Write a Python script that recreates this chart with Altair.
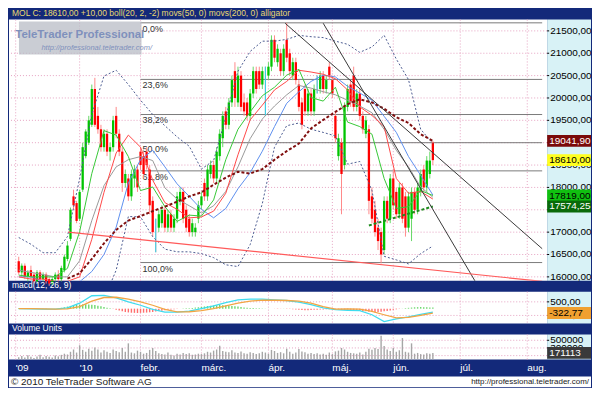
import altair as alt
import pandas as pd

# ---------------- data ----------------
opens = [16350,16100,16250,16000,16150,16050,15900,16100,15950,16050,
         15950,15850,15950,16050,15950,16150,16400,16850,17800,17650,
         17300,17950,18700,19000,19400,20200,19600,19300,18900,19200,
         18800,18900,19600,19200,18800,18100,18200,17800,18200,18400,
         18800,18700,18800,18400,17700,17100,17100,17200,17500,17100,
         17400,17100,17300,17700,17900,17500,17300,17000,17000,17300,
         17600,18100,17800,18300,18500,18200,18700,19100,19700,19400,
         19900,20600,19900,20500,19900,19900,19600,20100,20600,20600,
         20300,20500,20500,20700,21300,20800,21000,20600,21300,21000,
         20500,20800,20300,19900,20200,19700,20100,19700,20300,20200,
         20500,20200,20700,20400,19600,18700,19000,18500,19800,20300,
         20500,19800,20100,19600,19200,19300,17800,17500,17100,17000,
         16600,17700,17300,18200,17900,17400,18000,17800,17100,17300,
         17900,17500,17900,18400,18000,18300,19000]
highs = [16450,16300,16300,16150,16250,16100,16150,16150,16100,16100,
         16000,16000,16100,16150,16250,16500,16800,17550,17950,17700,
         17950,19000,19300,19600,20300,20450,19800,19400,19300,19300,
         19000,19600,19800,19300,18900,18400,18300,18400,18500,18500,
         18900,18800,18900,18500,17800,17300,17500,17600,17600,17500,
         17500,17400,17900,18000,18000,17600,17400,17300,17200,17700,
         17900,18200,18500,18600,18600,18900,19300,19700,19800,20000,
         20500,20800,20700,20600,20100,20000,20200,20700,20700,20700,
         20700,20700,20800,21400,21400,21200,21100,21200,21680,21100,
         20900,20900,20400,20000,20300,20200,20200,20300,20500,20600,
         20600,20500,20800,20500,19700,19200,19100,19900,20300,20400,
         20700,20200,20200,19700,19600,19400,18000,17700,17300,17100,
         17800,17800,18300,18400,18000,18100,18100,17900,17900,18000,
         18000,18100,18400,18500,18700,18800,19040]
lows = [16050,16000,15950,15900,15950,15850,15850,15900,15900,15850,
        15800,15800,15900,15900,15900,16100,16350,16800,17500,17200,
        17250,17900,18650,18950,19350,19350,19200,18800,18800,18700,
        18600,18800,19100,18700,17900,18000,17700,17700,18000,17900,
        18400,18200,18400,17400,16900,16550,17000,17100,17000,17000,
        17000,17000,17200,17600,17200,17000,16900,16900,16900,17200,
        17500,17700,17700,18200,18100,18100,18600,18900,19300,19300,
        19800,19800,19800,19700,19600,19500,19500,20000,20100,20200,
        20200,19600,20400,20600,20800,20700,20500,20500,20800,20500,
        20400,20300,19700,19300,19600,19600,19600,19600,20100,20100,
        20100,20100,20400,20000,19000,18600,17400,18400,19700,19800,
        19700,19700,19500,19200,19100,17400,17200,16900,16600,16300,
        16500,17200,17200,17500,17300,17300,17200,16900,17000,16800,
        17400,17400,17800,17900,17900,18200,18500]
closes = [16100,16250,16000,16100,16000,15900,16100,15950,16050,15900,
          15850,15950,16050,15950,16200,16450,16700,17500,17600,17250,
          17900,18900,19250,19500,20200,19400,19300,18900,19200,18800,
          18900,19500,19200,18800,18100,18300,17800,18300,18400,18000,
          18500,18300,18500,17600,17000,17100,17400,17500,17100,17400,
          17100,17300,17800,17900,17300,17100,17000,17200,17100,17600,
          17800,17800,18400,18500,18200,18800,19200,19600,19400,19900,
          20400,20000,20500,19800,19700,19600,20100,20600,20200,20300,
          20600,20500,20700,21300,20900,21100,20600,21100,20900,20600,
          20800,20400,19800,19400,19700,20100,19700,20200,20300,20500,
          20200,20400,20500,20100,19100,19100,18300,19800,20200,19900,
          19800,20100,19600,19300,19500,17700,17300,17000,16800,16500,
          17700,17300,18200,17600,17400,18000,17300,17100,17800,17900,
          17500,18000,18300,18000,18600,18600,18610]
volumes = [60000,90000,50000,110000,70000,40000,80000,120000,60000,90000,
           70000,50000,100000,80000,120000,150000,130000,200000,260000,180000,
           370000,250000,200000,280000,230000,310000,260000,180000,240000,200000,
           170000,260000,220000,190000,300000,200000,420000,180000,160000,230000,
           200000,150000,170000,250000,300000,220000,160000,140000,130000,180000,
           120000,100000,150000,130000,170000,140000,160000,120000,130000,150000,
           140000,160000,200000,180000,230000,260000,360000,220000,200000,190000,
           240000,180000,170000,210000,160000,150000,190000,170000,140000,160000,
           200000,180000,150000,250000,220000,170000,190000,160000,280000,200000,
           150000,180000,270000,210000,190000,150000,170000,140000,160000,130000,
           150000,120000,180000,140000,210000,230000,300000,260000,200000,170000,
           160000,150000,180000,130000,200000,280000,250000,300000,270000,620000,
           350000,260000,220000,300000,200000,240000,560000,200000,180000,420000,
           150000,170000,140000,130000,160000,150000,171113]
macd_hist = [20,25,20,15,10,5,-10,-15,-20,-20,-15,-10,-5,
             20,60,100,150,200,240,270,290,
             310,320,310,290,260,220,170,120,
             70,30,-20,
             -80,-140,-200,-250,-280,-300,-310,-320,-310,-300,-290,-270,-240,-210,-180,-150,-120,-90,-60,
             -40,-20,-10,10,20,30,50,80,100,
             130,160,190,210,230,250,260,250,240,220,200,180,150,120,
             90,70,50,40,30,20,20,10,5,0,-10,
             -20,-10,10,-20,-30,
             -50,-60,-80,-100,-120,-110,-100,-90,-80,-70,-60,-50,
             -40,-20,-40,-60,
             -100,-80,-60,-90,-110,-130,
             -150,-180,-200,-230,-250,-260,-250,-230,-200,-170,-130,-90,-50,-20,10,
             40,60,80,100,110,120,110,100,90,80]

line_idx = [0,4,8,12,16,20,24,28,32,36,40,44,48,52,56,60,64,68,72,76,
            80,84,88,92,96,100,104,108,112,116,120,124,128,132,136]
bb_upper = [16880,16730,16540,16540,16900,18200,19630,20490,20620,20300,
            19950,19630,19380,19130,18920,18410,18600,19570,20600,21040,
            21270,21270,21310,21400,21370,21350,21270,21200,21020,21140,
            21400,20870,20410,19300,18980]
bb_lower = [15700,15650,15650,15700,15600,15200,14800,15500,16150,17350,
            17340,16900,16620,16560,16560,16520,16430,16270,16230,16720,
            17640,18900,19380,19440,19300,19230,19150,18520,18580,17930,
            16460,16380,16290,16520,16690]
bb_mid = [16150,16100,16050,16000,16000,16360,17260,18040,18460,18620,
          18690,18600,17990,17740,17590,17430,17590,17910,18460,19090,
          19530,19820,20070,20280,20220,20140,20070,19950,19820,19670,
          19300,18830,18460,18010,17780]
jaw = [16000,16000,15900,15850,15850,15890,16120,16500,17110,18100,
       18620,18830,18460,18080,17800,17510,17320,17530,17970,18330,
       18810,19360,19880,20140,20370,20510,20470,20260,20110,19950,
       19590,19230,18690,18270,17830]
teeth = [16000,15950,15950,15900,15900,16000,16840,17890,18770,19170,
         18900,18160,17660,17510,17320,17340,17470,17870,18730,19510,
         19840,20180,20370,20620,20580,20530,20430,20180,19800,19610,
         19360,18200,17870,17910,17740]
lips = [16040,16000,16000,16000,16190,17010,18310,19270,19170,18690,
        17930,18010,17570,17240,17380,17360,17720,18620,19300,19690,
        20050,20240,20510,20640,20010,19930,20240,19460,19360,19190,
        18200,17530,17570,17930,17819]
ma50_idx = [16,20,24,28,32,36,40,44,48,52,56,60,64,68,72,76,
            80,84,88,92,96,100,104,108,112,116,120,124,128,132,136]
ma50 = [15960,16080,16400,16750,17050,17260,17360,17470,17570,17680,
        17800,17890,18060,18220,18350,18310,18410,18620,18810,18980,
        19320,19510,19690,19860,19970,19900,19760,19570,19440,19190,19041.9]
ma200_idx = [115, 136]
ma200 = [17150, 17574.25]
macd_line = [0,-20,-40,-40,50,400,950,980,800,500,250,-50,-250,-260,-180,0,
             200,450,650,700,700,650,600,480,300,50,-80,-120,-150,-450,-950,
             -750,-600,-420,-250]
macd_signal = [0,0,-20,-30,-20,150,550,820,840,700,500,250,-50,-240,-230,-150,
               0,200,400,550,620,620,600,550,400,150,-30,-20,-30,-200,-450,
               -680,-650,-500,-322.77]

month_pos = [-1, 20, 40, 60, 82, 103, 123, 145, 167]
month_names = ["'09", "'10", "febr.", "márc.", "ápr.", "máj.", "jún.", "júl.", "aug."]
price_ticks = [16000,16500,17000,17500,18000,18500,19000,19500,20000,20500,21000,21500]
# tick labels that are not hidden behind a value tag in the reference
price_labels = [16000,16500,17000,18000,18500,19500,20000,20500,21000,21500]
macd_ticks = [500, -500]
vol_ticks = [500000, 300000]
fib_levels = [21680, 20415, 19630, 19000, 18370, 16320]
fib_names = ["0,0%", "23,6%", "38,2%", "50,0%", "61,8%", "100,0%"]
fib_start = 40
trend_names = ["a", "a", "b", "b"]
trend_idx = [87.5, 171.9, 100, 150]
trend_price = [21670, 16630, 21670, 15890]
support_idx = [16.25, 171.9]
support_price = [17000, 15900]
price_tags = [19041.90, 18610.00, 17819.00, 17574.25]
price_tag_text = ["19041,90", "18610,00", "17819,00", "17574,25"]
macd_tag, macd_tag_text = -322.77, "-322,77"
vol_tag, vol_tag_text = 171113, "171113"

# ---------------- styling ----------------
W, AX = 540, 44
H_MAIN, H_MACD, H_VOL = 262, 32, 25
NAVY = "#13297a"
CYAN_BG = "#d8f2f6"
PINK = "#e6a3c2"
FONT = "Liberation Sans"
TAG_SHAPE = "M-1,-0.27L1,-0.27L1,0.27L-1,0.27Z"
tag_bg = ["#7a0a0a", "#ffff20", "#10c010", "#0a6a0a"]
tag_fg = ["white", "black", "black", "white"]

xs = alt.Scale(domain=[-1.56, 171.9], nice=False, zero=False)
ys_main = alt.Scale(domain=[15914, 21752], nice=False, zero=False)
ys_macd = alt.Scale(domain=[-1100, 1250], nice=False, zero=False)
ys_vol = alt.Scale(domain=[0, 650000], nice=False, zero=False)


def X(f):
    return alt.X(f, type="quantitative", scale=xs, axis=None)


def Y(f, sc):
    return alt.Y(f, type="quantitative", scale=sc, axis=None)


COMMA = "replace(format(datum.v, '.2f'), '.', ',')"

one = pd.DataFrame({"k": [0]})
idx = list(range(len(closes)))
candles = pd.DataFrame({"i": idx, "o": opens, "h": highs, "l": lows, "c": closes})
lines = pd.DataFrame({"i": line_idx, "bbu": bb_upper, "bbl": bb_lower, "mid": bb_mid,
                      "jaw": jaw, "teeth": teeth, "lips": lips,
                      "macd": macd_line, "sig": macd_signal})
ma50_df = pd.DataFrame({"i": ma50_idx, "v": ma50})
ma200_df = pd.DataFrame({"i": ma200_idx, "v": ma200})
trend_df = pd.DataFrame({"name": trend_names, "i": trend_idx, "p": trend_price})
support_df = pd.DataFrame({"i": support_idx, "p": support_price})
fib_df = pd.DataFrame({"v": fib_levels, "name": fib_names,
                       "s": [fib_start] * len(fib_levels), "e": [171.9] * len(fib_levels)})
vol_df = pd.DataFrame({"i": idx, "v": volumes})
hist_df = pd.DataFrame({"i": idx, "h": macd_hist})
months = pd.DataFrame({"m": month_pos, "name": month_names})


def side(h):
    return alt.Chart(one).mark_rect(color=CYAN_BG).encode(
        x=alt.value(W), x2=alt.value(W + AX), y=alt.value(0), y2=alt.value(h))


def vgrid():
    return alt.Chart(months).mark_rule(color=PINK, strokeDash=[1, 2]).encode(x=X("m"))


def hgrid(vals, sc):
    return alt.Chart(pd.DataFrame({"v": vals})).mark_rule(color=PINK, strokeDash=[1, 2]).encode(
        y=Y("v", sc))


def ylabels(tick_vals, label_vals, sc, expr):
    ticks = alt.Chart(pd.DataFrame({"v": tick_vals})).mark_rule(
        color="#000000", strokeWidth=1).encode(x=alt.value(W), x2=alt.value(W + 2), y=Y("v", sc))
    txt = alt.Chart(pd.DataFrame({"v": label_vals})).transform_calculate(t=expr).mark_text(
        align="left", baseline="middle", fontSize=10, font=FONT, color="#000000").encode(
        x=alt.value(W + 3), y=Y("v", sc), text="t:N")
    return [ticks, txt]


def tag(v, txt, sc, bg, fg):
    pt = alt.Chart(one).mark_point(shape=TAG_SHAPE, size=AX * AX, filled=True, color=bg,
                                   opacity=1, strokeWidth=0).encode(
        x=alt.value(W + AX / 2), y=alt.YDatum(v, scale=sc, axis=None, type="quantitative"))
    tx = alt.Chart(one).mark_text(align="left", baseline="middle", fontSize=10, font=FONT,
                                  color=fg).encode(
        x=alt.value(W + 2), y=alt.YDatum(v, scale=sc, axis=None, type="quantitative"),
        text=alt.value(txt))
    return [pt, tx]


def panel_title(txt, color):
    return alt.Chart(one).mark_text(align="left", baseline="bottom", fontSize=8.5, font=FONT,
                                    color=color).encode(
        x=alt.value(3), y=alt.value(-1.5), text=alt.value(txt))


# ---------------- main price panel ----------------
cb = alt.Chart(candles)
up = alt.datum.c > alt.datum.o
wicks = cb.mark_rule(strokeWidth=1).encode(
    x=X("i"), y=Y("l", ys_main), y2="h:Q",
    color=alt.condition(up, alt.value("#66d866"), alt.value("#ff8a8a")))
doji = cb.transform_filter(alt.datum.c == alt.datum.o).mark_rule(
    strokeWidth=1, color="#20d8f0").encode(x=X("i"), y=Y("l", ys_main), y2="h:Q")
bodies = cb.transform_filter(alt.datum.c != alt.datum.o).mark_bar(width=2.3).encode(
    x=X("i"), y=Y("o", ys_main), y2="c:Q",
    color=alt.condition(up, alt.value("#00c400"), alt.value("#ff0000")))

lb = alt.Chart(lines)


def ind(field, color, dash=None, width=1.0):
    kw = dict(color=color, strokeWidth=width, clip=True)
    if dash:
        kw["strokeDash"] = dash
    return lb.mark_line(**kw).encode(x=X("i"), y=Y(field, ys_main))


fib_rules = alt.Chart(fib_df).mark_rule(color="#7a7a7a", strokeWidth=1).encode(
    x=X("s"), x2="e:Q", y=Y("v", ys_main))
fib_text = alt.Chart(fib_df).mark_text(align="left", baseline="top", dx=2, dy=2,
                                        fontSize=9, font=FONT, color="#333333").encode(
    x=X("s"), y=Y("v", ys_main), text="name:N")
trend = alt.Chart(trend_df).mark_line(color="#3a3a3a", strokeWidth=1, clip=True).encode(
    x=X("i"), y=Y("p", ys_main), detail="name:N")
support = alt.Chart(support_df).mark_line(color="#ff5a5a", strokeWidth=1.2, clip=True).encode(
    x=X("i"), y=Y("p", ys_main))
ma50_line = alt.Chart(ma50_df).mark_line(color="#800f0f", strokeWidth=2, strokeDash=[3, 2],
                                         clip=True).encode(x=X("i"), y=Y("v", ys_main))
ma200_line = alt.Chart(ma200_df).mark_line(color="#1e8c1e", strokeWidth=2, strokeDash=[3, 2],
                                           clip=True).encode(x=X("i"), y=Y("v", ys_main))

wm_box = alt.Chart(one).mark_rect(color="#b8bcc6", opacity=0.75).encode(
    x=alt.value(10), x2=alt.value(133), y=alt.value(2), y2=alt.value(35))
wm_t1 = alt.Chart(one).mark_text(align="center", baseline="middle", fontSize=11.5,
                                 fontWeight="bold", font=FONT, color="#7f90bc").encode(
    x=alt.value(71), y=alt.value(15), text=alt.value("TeleTrader Professional"))
wm_t2 = alt.Chart(one).mark_text(align="center", baseline="middle", fontSize=7.5,
                                 fontStyle="italic", font=FONT, color="#7f90bc").encode(
    x=alt.value(88), y=alt.value(28), text=alt.value("http://professional.teletrader.com/"))

header = panel_title("MOL C: 18610,00 +10,00 boll(20, 2, -2) movs(50, 0) movs(200, 0) alligator",
                     "#e8d870")

main_layers = [side(H_MAIN), vgrid(), hgrid(price_ticks, ys_main),
               fib_rules, fib_text, wm_box, wm_t1, wm_t2,
               wicks, doji, bodies,
               ind("bbu", "#4d5c92", [2, 2]), ind("bbl", "#4d5c92", [2, 2]),
               ind("mid", "#9a9a9a"), ind("jaw", "#5e90ee"), ind("teeth", "#ff4848"),
               ind("lips", "#38c838"), ma50_line, ma200_line, trend, support]
main_layers += ylabels(price_ticks, price_labels, ys_main, COMMA)
for v, t, bg, fg in zip(price_tags, price_tag_text, tag_bg, tag_fg):
    main_layers += tag(v, t, ys_main, bg, fg)
main_layers.append(header)
main = alt.layer(*main_layers).properties(width=W, height=H_MAIN)

# ---------------- MACD panel ----------------
hist = alt.Chart(hist_df).mark_bar(width=1.4).encode(
    x=X("i"), y=Y("h", ys_macd), y2=alt.datum(0),
    color=alt.condition(alt.datum.h > 0, alt.value("#6cd86c"), alt.value("#ff6e6e")))
macd_l = lb.mark_line(color="#3fdcef", strokeWidth=1.3).encode(x=X("i"), y=Y("macd", ys_macd))
sig_l = lb.mark_line(color="#f2a544", strokeWidth=1.3).encode(x=X("i"), y=Y("sig", ys_macd))
macd_layers = [side(H_MACD), vgrid(), hgrid(macd_ticks, ys_macd), hist, macd_l, sig_l]
macd_layers += ylabels(macd_ticks, macd_ticks, ys_macd, COMMA)
macd_layers += tag(macd_tag, macd_tag_text, ys_macd, "#f0a030", "black")
macd_layers.append(panel_title("macd(12, 26, 9)", "white"))
macd = alt.layer(*macd_layers).properties(width=W, height=H_MACD)

# ---------------- Volume panel ----------------
vol_bars = alt.Chart(vol_df).mark_bar(width=1.4, color="#a6a6a6").encode(
    x=X("i"), y=Y("v", ys_vol))
month_text = alt.Chart(months).mark_text(align="left", baseline="middle", dx=0, fontSize=10,
                                         font=FONT, color="white").encode(
    x=X("m"), y=alt.value(H_VOL + 9), text="name:N")
footer_box = alt.Chart(one).mark_rect(color="white").encode(
    x=alt.value(0), x2=alt.value(W + AX), y=alt.value(H_VOL + 17), y2=alt.value(H_VOL + 28))
footer_l = alt.Chart(one).mark_text(align="left", baseline="middle", fontSize=10, font=FONT,
                                    color="#222222").encode(
    x=alt.value(2), y=alt.value(H_VOL + 22.5), text=alt.value("© 2010 TeleTrader Software AG"))
footer_r = alt.Chart(one).mark_text(align="right", baseline="middle", fontSize=8, font=FONT,
                                    color="#222222").encode(
    x=alt.value(W + AX - 2), y=alt.value(H_VOL + 22.5),
    text=alt.value("http://professional.teletrader.com/"))
vol_layers = [side(H_VOL), vgrid(), hgrid([100000, 300000, 500000], ys_vol), vol_bars]
vol_layers += ylabels(vol_ticks, vol_ticks, ys_vol, "format(datum.v, 'd')")
vol_layers += tag(vol_tag, vol_tag_text, ys_vol, "#3a3a3a", "white")
vol_layers += [panel_title("Volume Units", "white"), month_text, footer_box, footer_l, footer_r]
vol = alt.layer(*vol_layers).properties(width=W, height=H_VOL)

chart = alt.vconcat(main, macd, vol, spacing=11, bounds="flush").properties(
    background=NAVY, padding=0
).configure_view(fill="white", stroke=None)

chart.save("out.html", embed_options={"renderer": "svg", "actions": False})
